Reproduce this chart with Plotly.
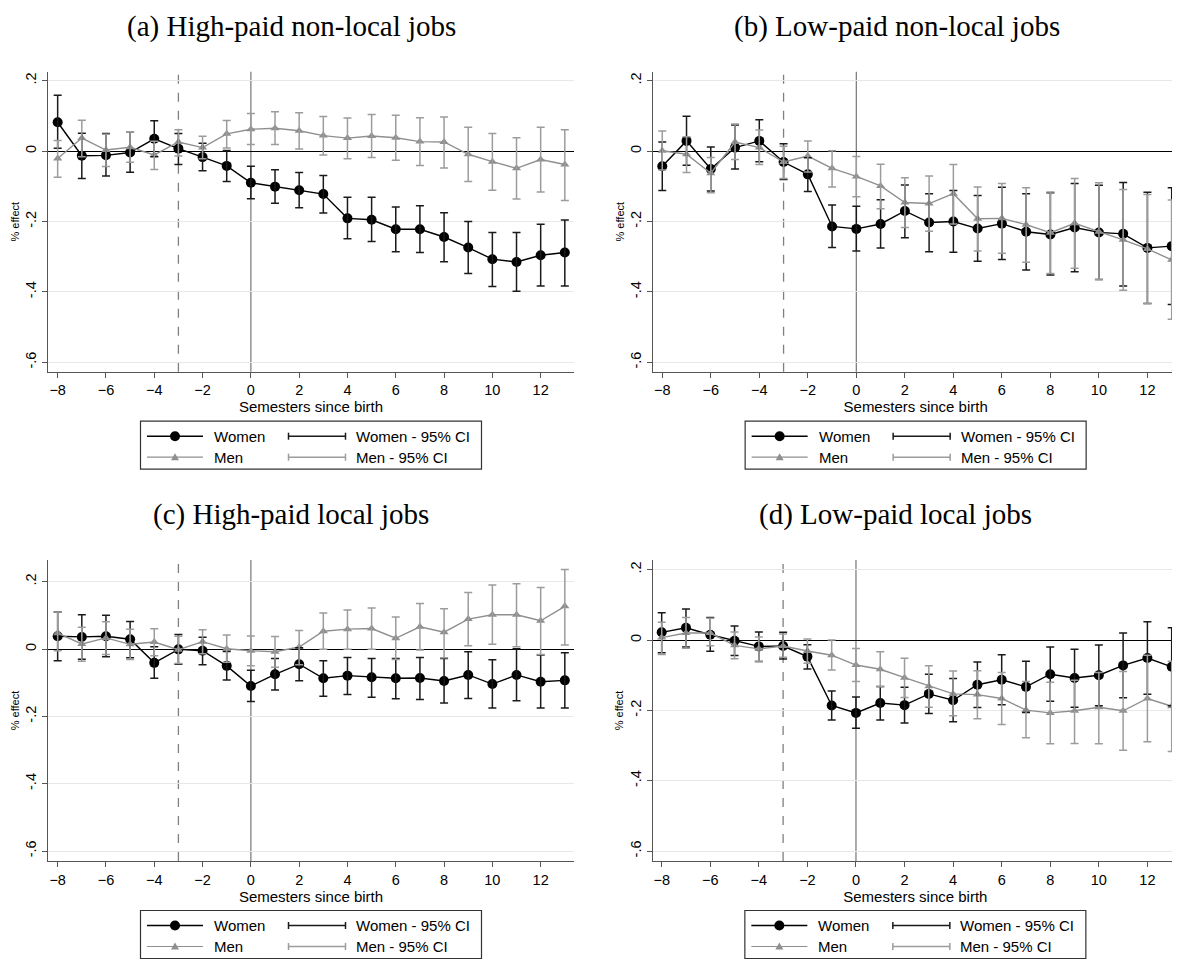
import plotly.graph_objects as go

# page body has an 8px margin: the figure is shrunk and coordinates offset so the
# screenshot matches the 1180x960 reference layout
PAGE_W, PAGE_H = 1180, 960
OFF = 8
W, H = PAGE_W - OFF, PAGE_H - OFF

semesters = list(range(-8, 14))
xtick_vals = list(range(-8, 13, 2))
ytick_vals = [0.2, 0, -0.2, -0.4, -0.6]
ytick_text = [".2", "0", "-.2", "-.4", "-.6"]
panel_titles = ["(a) High-paid non-local jobs", "(b) Low-paid non-local jobs",
                "(c) High-paid local jobs", "(d) Low-paid local jobs"]
series_names = ["Women", "Men", "Women - 95% CI", "Men - 95% CI"]

# (a) High-paid non-local jobs
a_w = [0.082, -0.013, -0.012, -0.004, 0.035, 0.007, -0.017, -0.042, -0.090, -0.101, -0.111,
       -0.122, -0.191, -0.195, -0.222, -0.222, -0.244, -0.274, -0.307, -0.315, -0.296, -0.288]
a_w_hi = [0.159, 0.051, 0.050, 0.055, 0.086, 0.050, 0.022, 0.002, -0.043, -0.053, -0.061,
          -0.069, -0.131, -0.131, -0.159, -0.155, -0.175, -0.200, -0.231, -0.231, -0.208, -0.196]
a_w_lo = [0.008, -0.078, -0.071, -0.060, -0.016, -0.038, -0.056, -0.086, -0.135, -0.148, -0.161,
          -0.176, -0.249, -0.257, -0.286, -0.288, -0.314, -0.348, -0.385, -0.398, -0.383, -0.383]
a_m = [-0.021, 0.037, 0.003, 0.011, -0.011, 0.026, 0.010, 0.049, 0.062, 0.065, 0.058,
       0.044, 0.037, 0.043, 0.038, 0.027, 0.026, -0.009, -0.030, -0.049, -0.024, -0.038]
a_m_hi = [0.030, 0.088, 0.048, 0.055, 0.028, 0.061, 0.042, 0.087, 0.107, 0.112, 0.109,
          0.098, 0.094, 0.104, 0.102, 0.095, 0.097, 0.068, 0.050, 0.038, 0.068, 0.061]
a_m_lo = [-0.074, -0.016, -0.044, -0.032, -0.052, -0.014, -0.022, 0.009, 0.019, 0.019, 0.006,
          -0.011, -0.022, -0.018, -0.026, -0.041, -0.048, -0.086, -0.111, -0.136, -0.116, -0.140]

# (b) Low-paid non-local jobs
b_w = [-0.043, 0.029, -0.051, 0.010, 0.029, -0.031, -0.066, -0.214, -0.221, -0.207, -0.170,
       -0.203, -0.200, -0.220, -0.206, -0.229, -0.237, -0.217, -0.231, -0.235, -0.275, -0.270]
b_w_hi = [0.026, 0.099, 0.012, 0.074, 0.089, 0.021, -0.019, -0.153, -0.157, -0.138, -0.096,
          -0.121, -0.112, -0.126, -0.103, -0.121, -0.118, -0.092, -0.097, -0.089, -0.117, -0.104]
b_w_lo = [-0.112, -0.040, -0.113, -0.051, -0.030, -0.081, -0.115, -0.274, -0.284, -0.275, -0.246,
          -0.286, -0.287, -0.313, -0.308, -0.338, -0.352, -0.343, -0.365, -0.383, -0.433, -0.436]
b_m = [0.001, -0.009, -0.063, 0.026, 0.010, -0.031, -0.014, -0.049, -0.072, -0.099, -0.146,
       -0.149, -0.121, -0.192, -0.191, -0.209, -0.232, -0.205, -0.229, -0.252, -0.278, -0.309]
b_m_hi = [0.057, 0.041, -0.018, 0.077, 0.060, 0.014, 0.029, 0.001, -0.015, -0.037, -0.076,
          -0.071, -0.038, -0.102, -0.092, -0.104, -0.116, -0.078, -0.090, -0.109, -0.123, -0.139]
b_m_lo = [-0.054, -0.061, -0.118, -0.024, -0.038, -0.078, -0.059, -0.102, -0.130, -0.164, -0.217,
          -0.228, -0.207, -0.284, -0.290, -0.316, -0.348, -0.333, -0.365, -0.395, -0.433, -0.478]

# (c) High-paid local jobs
c_w = [0.038, 0.036, 0.038, 0.029, -0.041, -0.001, -0.005, -0.050, -0.110, -0.075, -0.045,
       -0.087, -0.079, -0.084, -0.087, -0.086, -0.095, -0.077, -0.104, -0.077, -0.097, -0.093]
c_w_hi = [0.110, 0.102, 0.100, 0.082, 0.007, 0.043, 0.035, -0.007, -0.063, -0.028, 0.004,
          -0.035, -0.025, -0.028, -0.028, -0.025, -0.028, -0.008, -0.032, 0.001, -0.018, -0.011]
c_w_lo = [-0.035, -0.030, -0.023, -0.026, -0.087, -0.045, -0.047, -0.092, -0.156, -0.122, -0.094,
          -0.140, -0.135, -0.143, -0.148, -0.150, -0.160, -0.147, -0.175, -0.154, -0.175, -0.175]
c_m = [0.047, 0.015, 0.033, 0.014, 0.021, -0.002, 0.022, 0.001, -0.005, -0.008, 0.006,
       0.053, 0.059, 0.061, 0.032, 0.066, 0.050, 0.089, 0.102, 0.102, 0.084, 0.127]
c_m_hi = [0.110, 0.065, 0.081, 0.059, 0.060, 0.038, 0.057, 0.042, 0.039, 0.037, 0.055,
          0.107, 0.116, 0.122, 0.095, 0.135, 0.120, 0.168, 0.190, 0.194, 0.183, 0.236]
c_m_lo = [-0.005, -0.036, -0.016, -0.031, -0.020, -0.043, -0.014, -0.039, -0.050, -0.054, -0.047,
          -0.001, -0.001, -0.001, -0.031, -0.003, -0.026, 0.010, 0.014, 0.007, -0.016, 0.012]

# (d) Low-paid local jobs
d_w = [0.022, 0.035, 0.015, -0.002, -0.018, -0.017, -0.047, -0.186, -0.207, -0.179, -0.185,
       -0.153, -0.171, -0.127, -0.113, -0.133, -0.097, -0.108, -0.100, -0.072, -0.051, -0.076]
d_w_hi = [0.078, 0.088, 0.064, 0.040, 0.023, 0.022, -0.013, -0.145, -0.162, -0.132, -0.134,
          -0.097, -0.109, -0.062, -0.042, -0.060, -0.020, -0.026, -0.014, 0.020, 0.052, 0.035]
d_w_lo = [-0.036, -0.020, -0.032, -0.044, -0.061, -0.054, -0.082, -0.227, -0.251, -0.227, -0.236,
          -0.209, -0.232, -0.192, -0.184, -0.206, -0.174, -0.191, -0.187, -0.164, -0.154, -0.187]
d_m = [0.007, 0.020, 0.020, -0.015, -0.025, -0.017, -0.031, -0.043, -0.071, -0.083, -0.107,
       -0.131, -0.153, -0.155, -0.166, -0.199, -0.207, -0.201, -0.191, -0.201, -0.166, -0.188]
d_m_hi = [0.051, 0.064, 0.062, 0.023, 0.009, 0.017, 0.003, 0.000, -0.024, -0.033, -0.052,
          -0.073, -0.088, -0.087, -0.092, -0.118, -0.120, -0.114, -0.092, -0.089, -0.043, -0.060]
d_m_lo = [-0.041, -0.023, -0.016, -0.053, -0.061, -0.049, -0.066, -0.085, -0.118, -0.133, -0.163,
          -0.191, -0.215, -0.224, -0.240, -0.278, -0.295, -0.294, -0.295, -0.313, -0.289, -0.317]

panels_data = [
    (a_w, a_w_lo, a_w_hi, a_m, a_m_lo, a_m_hi),
    (b_w, b_w_lo, b_w_hi, b_m, b_m_lo, b_m_hi),
    (c_w, c_w_lo, c_w_hi, c_m, c_m_lo, c_m_hi),
    (d_w, d_w_lo, d_w_hi, d_m, d_m_lo, d_m_hi),
]

# panel geometry in page pixels: left, right, top, bottom ; axis ranges ; title position
geom = [
    dict(l=48, r=574, t=71.7, b=371.7, xr=[-8.40, 13.38], yr=[-0.6267, 0.2256], tx=291, ty=8.5),
    dict(l=653.3, r=1178, t=71.7, b=371.7, xr=[-8.37, 13.26], yr=[-0.6267, 0.2256], tx=897, ty=8.5),
    dict(l=48, r=574, t=560, b=861, xr=[-8.40, 13.38], yr=[-0.6297, 0.2645], tx=291, ty=497),
    dict(l=652.7, r=1178, t=560, b=861, xr=[-8.37, 13.26], yr=[-0.628, 0.2276], tx=895, ty=497),
]

W_COL = "#000000"
M_COL = "#8f8f8f"
W_CI = "#1a1a1a"
M_CI = "#9c9c9c"
FONT = "Liberation Sans, Arial, sans-serif"

fig = go.Figure()
shapes = []
annotations = []


def px(x):
    return (x - OFF) / W


def py(y):
    return 1 - (y - OFF) / H


for i, (data, g) in enumerate(zip(panels_data, geom)):
    n = "" if i == 0 else str(i + 1)
    xa, ya = "x" + n, "y" + n
    w, w_lo, w_hi, m, m_lo, m_hi = data
    fig.add_trace(go.Scatter(
        x=semesters, y=w, mode="lines+markers", name=series_names[0], showlegend=False,
        line=dict(color=W_COL, width=1.4), marker=dict(symbol="circle", size=10, color=W_COL),
        xaxis=xa, yaxis=ya))
    fig.add_trace(go.Scatter(
        x=semesters, y=m, mode="lines+markers", name=series_names[1], showlegend=False,
        line=dict(color=M_COL, width=1.4), marker=dict(symbol="triangle-up", size=8, color=M_COL),
        xaxis=xa, yaxis=ya))
    fig.add_trace(go.Scatter(
        x=semesters, y=w, mode="markers", name=series_names[2], showlegend=False,
        marker=dict(size=2, color="rgba(0,0,0,0)"),
        error_y=dict(type="data", symmetric=False,
                     array=[h - v for h, v in zip(w_hi, w)],
                     arrayminus=[v - l for v, l in zip(w, w_lo)],
                     color=W_CI, thickness=1.5, width=4),
        xaxis=xa, yaxis=ya))
    fig.add_trace(go.Scatter(
        x=semesters, y=m, mode="markers", name=series_names[3], showlegend=False,
        marker=dict(size=2, color="rgba(0,0,0,0)"),
        error_y=dict(type="data", symmetric=False,
                     array=[h - v for h, v in zip(m_hi, m)],
                     arrayminus=[v - l for v, l in zip(m, m_lo)],
                     color=M_CI, thickness=1.5, width=4),
        xaxis=xa, yaxis=ya))

    xkey = "xaxis" + n
    ykey = "yaxis" + n
    fig.update_layout(**{
        xkey: dict(domain=[px(g["l"]), px(g["r"])], range=g["xr"], anchor=ya,
                   tickmode="array", tickvals=xtick_vals, ticks="outside", ticklen=5,
                   tickcolor="#555", tickwidth=1.2, showline=True, linecolor="#555",
                   linewidth=1.2, showgrid=False, zeroline=False,
                   tickfont=dict(family=FONT, size=14.5, color="#000"),
                   title=dict(text="Semesters since birth", standoff=2,
                              font=dict(family=FONT, size=15, color="#000"))),
        ykey: dict(domain=[py(g["b"]), py(g["t"])], range=g["yr"], anchor=xa,
                   tickmode="array", tickvals=ytick_vals, ticktext=ytick_text,
                   tickangle=-90, ticks="outside", ticklen=5, tickcolor="#555",
                   tickwidth=1.2, showline=True, linecolor="#555", linewidth=1.2,
                   showgrid=True, gridcolor="#e8e8e8", gridwidth=1,
                   zeroline=True, zerolinecolor="#000", zerolinewidth=1.3,
                   tickfont=dict(family=FONT, size=14.5, color="#000"),
                   title=dict(text="% effect", standoff=1,
                              font=dict(family=FONT, size=11, color="#000"))),
    })

    # reference lines
    shapes.append(dict(type="line", xref=xa, yref=ya + " domain", x0=-3, x1=-3, y0=0, y1=1,
                       line=dict(color="#808080", width=1.3, dash="dash"), layer="below"))
    shapes.append(dict(type="line", xref=xa, yref=ya + " domain", x0=0, x1=0, y0=0, y1=1,
                       line=dict(color="#808080", width=1.3), layer="below"))

    # panel title
    annotations.append(dict(text=panel_titles[i], x=px(g["tx"]), y=py(g["ty"]),
                            xref="paper", yref="paper", xanchor="center", yanchor="top",
                            showarrow=False, borderpad=0,
                            font=dict(family="Liberation Serif, Times New Roman, serif",
                                      size=29, color="#000")))

    # legend (drawn manually: 2 x 2 layout with capped CI samples)
    cx = (g["l"] + g["r"]) / 2
    top = g["b"] + 49.5
    shapes.append(dict(type="rect", xref="paper", yref="paper",
                       x0=px(cx - 170.5), x1=px(cx + 170.5), y0=py(top + 48), y1=py(top),
                       line=dict(color="#333", width=1.2), fillcolor="white"))
    rows = [top + 15, top + 36]
    for r, (col, ci_col, sym) in enumerate([(W_COL, W_CI, "circle"), (M_COL, M_CI, "tri")]):
        yy = rows[r]
        shapes.append(dict(type="line", xref="paper", yref="paper",
                           x0=px(cx - 164), x1=px(cx - 108), y0=py(yy), y1=py(yy),
                           line=dict(color=col, width=1.4 if r == 0 else 1.2)))
        if sym == "circle":
            shapes.append(dict(type="circle", xref="paper", yref="paper",
                               xsizemode="pixel", ysizemode="pixel",
                               xanchor=px(cx - 136), yanchor=py(yy),
                               x0=-5, x1=5, y0=-5, y1=5,
                               fillcolor=col, line=dict(color=col, width=0)))
        else:
            shapes.append(dict(type="path", xref="paper", yref="paper",
                               xsizemode="pixel", ysizemode="pixel",
                               xanchor=px(cx - 136), yanchor=py(yy),
                               path="M -4,-3 L 4,-3 L 0,4 Z",
                               fillcolor=col, line=dict(color=col, width=0)))
        # CI sample: horizontal line with caps
        x0s, x1s = cx - 22.5, cx + 34.5
        shapes.append(dict(type="line", xref="paper", yref="paper",
                           x0=px(x0s), x1=px(x1s), y0=py(yy), y1=py(yy),
                           line=dict(color=ci_col, width=1.5)))
        for xe in (x0s, x1s):
            shapes.append(dict(type="line", xref="paper", yref="paper",
                               x0=px(xe), x1=px(xe), y0=py(yy - 3.5), y1=py(yy + 3.5),
                               line=dict(color=ci_col, width=1.5)))
        annotations.append(dict(text=series_names[r], x=px(cx - 99), y=py(yy),
                                xref="paper", yref="paper", xanchor="left", yanchor="middle",
                                showarrow=False, font=dict(family=FONT, size=15, color="#000")))
        annotations.append(dict(text=series_names[r + 2], x=px(cx + 43), y=py(yy),
                                xref="paper", yref="paper", xanchor="left", yanchor="middle",
                                showarrow=False, font=dict(family=FONT, size=15, color="#000")))

fig.update_layout(width=W, height=H, margin=dict(l=0, r=0, t=0, b=0),
                  paper_bgcolor="white", plot_bgcolor="white", showlegend=False,
                  shapes=shapes, annotations=annotations)

fig.write_html("out.html")
